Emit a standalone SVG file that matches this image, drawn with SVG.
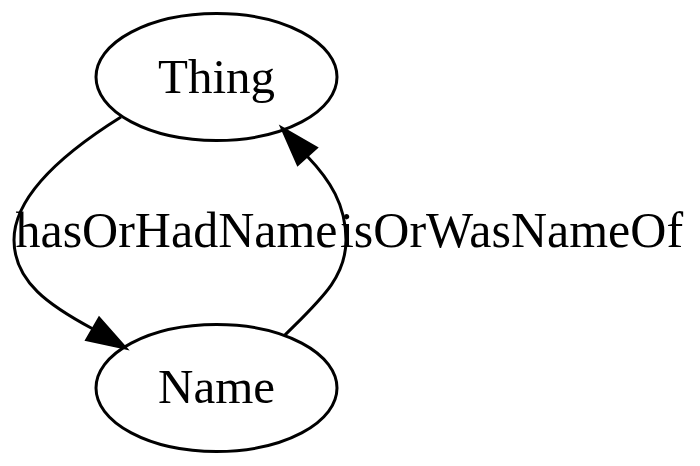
<svg xmlns="http://www.w3.org/2000/svg" width="700" height="466" viewBox="0 0 700 466">
<style>
.node ellipse{fill:none;stroke:#000;stroke-width:3}
.edge path{fill:none;stroke:#000;stroke-width:3}
.edge polygon{fill:#000;stroke:#000;stroke-width:3}
text{font-family:"Liberation Serif","Times New Roman",serif;font-size:49px;fill:#000;text-anchor:middle}
.edge text{font-size:50px}
</style>
<rect width="700" height="466" fill="#fff"/>
<g id="connectors">
<g class="edge" id="e1">
<path d="M121,117 C65,152 14,195 14,240 C14,282 50,306 93,329"/>
<polygon points="125.5,348 86.8,339.6 99.2,318.4"/>
<text x="176.5" y="247">hasOrHadName</text>
</g>
<g class="edge" id="e2">
<path d="M284,336 C320,300 346,278 346,240 C346,205 330,180 307,156"/>
<polygon points="282,128 316.2,147.8 297.9,164.2"/>
<text x="511.5" y="247">isOrWasNameOf</text>
</g>
</g>
<g class="node" id="thing">
<ellipse cx="216.5" cy="77" rx="120.5" ry="63.5"/>
<text x="216.5" y="93">Thing</text>
</g>
<g class="node" id="name">
<ellipse cx="216.5" cy="388" rx="120.5" ry="63.5"/>
<text x="216.5" y="403">Name</text>
</g>
</svg>
